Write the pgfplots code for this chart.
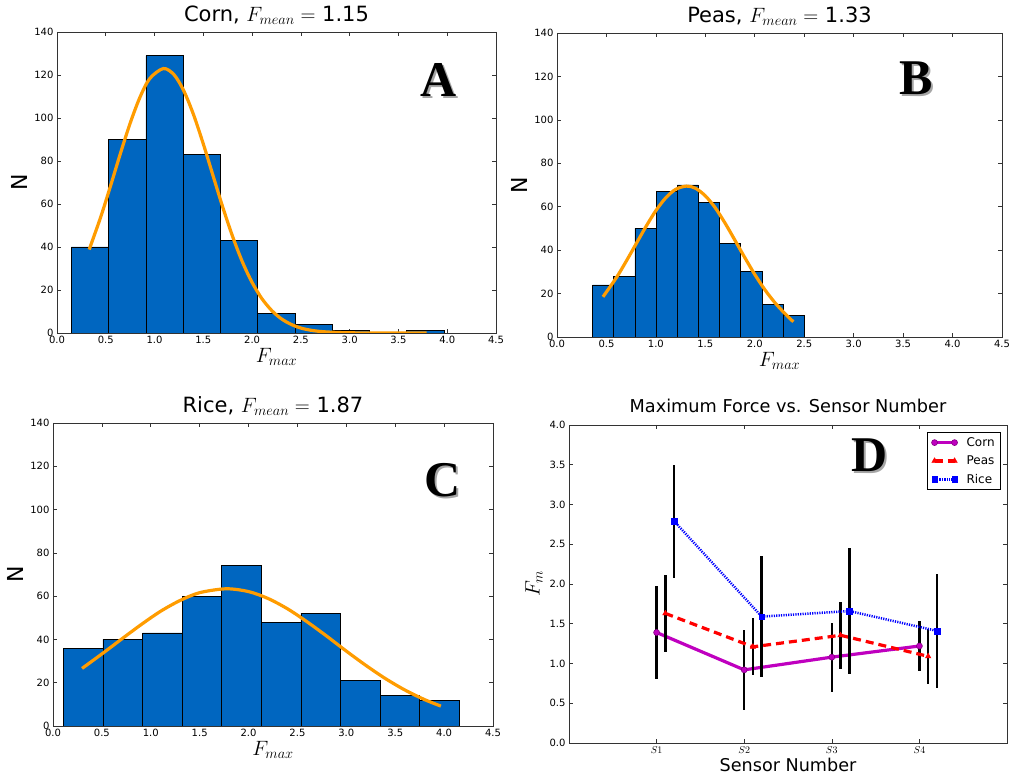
\documentclass[border=0pt]{standalone}
\usepackage{fontspec}
\setmainfont{DejaVu Sans}
\newfontfamily\letterfont{Liberation Serif}
\usepackage{pgfplots}
\pgfplotsset{compat=1.18}

\definecolor{histblue}{HTML}{0066C0}
\definecolor{fitorange}{HTML}{FF9C00}
\definecolor{corncol}{HTML}{BF00BF}
\definecolor{peascol}{HTML}{FF0000}
\definecolor{ricecol}{HTML}{0000FF}

% big panel letter with a soft drop shadow
\newcommand{\panelletter}[2]{%
  \node[text=black!35, font=\letterfont\bfseries\fontsize{50}{50}\selectfont, xshift=2pt, yshift=-2pt] at (#1) {#2};
  \node[text=black, font=\letterfont\bfseries\fontsize{50}{50}\selectfont] at (#1) {#2};
}

\pgfplotsset{
  panel/.style={
    scale only axis,
    anchor=south west,
    /pgf/number format/assume math mode=true,
    axis line style={black!80, line width=0.8pt},
    tick style={black!80, line width=0.6pt},
    major tick length=4pt,
    minor tick num=0,
    ticklabel style={font=\fontsize{10}{12}\selectfont},
    title style={font=\fontsize{21}{23}\selectfont, anchor=south, inner sep=0pt, yshift=1pt},
    xlabel style={font=\fontsize{21}{24}\selectfont, yshift=3pt},
    ylabel style={font=\fontsize{22}{25}\selectfont},
  },
  hist/.style={
    panel,
    xmin=0, xmax=4.5, ymin=0, ymax=140,
    xtick={0,0.5,1,1.5,2,2.5,3,3.5,4,4.5},
    ytick={0,20,40,60,80,100,120,140},
    xticklabel style={/pgf/number format/fixed, /pgf/number format/fixed zerofill, /pgf/number format/precision=1},
    xlabel={$F_{max}$},
    ylabel={N},
  },
  bars/.style={ybar interval, fill=histblue, draw=black, line width=0.7pt},
  fit/.style={fitorange, line width=3.2pt, smooth},
  errs/.style={error bars/y dir=both, error bars/y explicit, error bars/error mark=none,
    error bars/error bar style={black, line width=2.5pt, solid}},
}

\begin{document}
\begin{tikzpicture}
\path[use as bounding box] (0,0) rectangle (1011pt,781pt);

% Panel A: Corn
\begin{axis}[hist, at={(57pt,448pt)}, width=439pt, height=301pt,
  title={Corn, $F_{mean}=$ 1.15}]
  \addplot[bars] coordinates {
    (0.147,40) (0.529,90) (0.911,129) (1.293,83) (1.675,43) (2.057,9)
    (2.439,4) (2.821,1) (3.203,0) (3.585,1) (3.967,0)
  };
  \addplot[fit] coordinates {
    (0.33,38.8) (0.45,54.2) (0.55,68.6) (0.65,83.5) (0.75,97.6) (0.85,109.6)
    (0.95,118.3) (1.09,123) (1.2,120.1) (1.3,112.6) (1.4,101.5) (1.5,87.9)
    (1.6,73.1) (1.7,58.4) (1.8,44.9) (1.9,33.1) (2.0,23.5) (2.1,16.0)
    (2.2,10.5) (2.3,6.6) (2.4,4.0) (2.5,2.3) (2.6,1.3) (2.7,0.7) (2.8,0.4)
    (2.9,0.2) (3.0,0.1) (3.2,0) (3.5,0) (3.79,0)
  };
  \panelletter{axis cs:3.91,117.6}{A}
\end{axis}

% Panel B: Peas
\begin{axis}[hist, at={(557pt,444pt)}, width=445pt, height=304pt,
  title={Peas, $F_{mean}=$ 1.33}]
  \addplot[bars] coordinates {
    (0.36,24) (0.574,28) (0.788,50) (1.002,67) (1.216,70) (1.43,62)
    (1.644,43) (1.858,30) (2.072,15) (2.286,10) (2.50,0)
  };
  \addplot[fit] coordinates {
    (0.465,18.5) (0.6,27.3) (0.7,34.9) (0.8,42.9) (0.9,50.9) (1.0,58.2)
    (1.1,64.1) (1.2,68.0) (1.31,69.5) (1.4,68.5) (1.5,65.0) (1.6,59.5)
    (1.7,52.4) (1.8,44.5) (1.9,36.5) (2.0,28.8) (2.1,21.9) (2.2,16.0)
    (2.3,11.0) (2.39,7.0)
  };
  \panelletter{axis cs:3.63,119}{B}
\end{axis}

% Panel C: Rice
\begin{axis}[hist, at={(53pt,55pt)}, width=440pt, height=303pt,
  title={Rice, $F_{mean}=$ 1.87}]
  \addplot[bars] coordinates {
    (0.106,36) (0.511,40) (0.916,43) (1.321,60) (1.726,74) (2.131,48)
    (2.536,52) (2.941,21) (3.346,14) (3.751,12) (4.156,0)
  };
  \addplot[fit] coordinates {
    (0.297,26.6) (0.5,33.3) (0.7,40.1) (0.9,46.8) (1.1,53.0) (1.3,58.0)
    (1.5,61.6) (1.77,63.4) (2.0,62.1) (2.2,58.9) (2.4,54.1) (2.6,48.1)
    (2.8,41.5) (3.0,34.6) (3.2,28.0) (3.4,21.9) (3.6,16.6) (3.8,12.2)
    (3.967,9.2)
  };
  \panelletter{axis cs:3.98,113.8}{C}
\end{axis}

% Panel D: force per sensor
\begin{axis}[panel, at={(569pt,38pt)}, width=438pt, height=318pt,
  xmin=0, xmax=5, ymin=0, ymax=4,
  xtick={1,2,3,4},
  xticklabels={$S1$,$S2$,$S3$,$S4$},
  ytick={0,0.5,1,1.5,2,2.5,3,3.5,4},
  yticklabel style={/pgf/number format/fixed, /pgf/number format/fixed zerofill, /pgf/number format/precision=1},
  title={Maximum Force vs. Sensor Number},
  title style={font=\fontsize{17.7}{19}\selectfont, anchor=base, yshift=5pt},
  xlabel={Sensor Number},
  xlabel style={font=\fontsize{17.6}{20}\selectfont, yshift=-1pt},
  ylabel={$F_m$},
  ylabel style={font=\fontsize{20}{22}\selectfont},
  legend style={at={(1,1)}, anchor=north east, xshift=-6pt, yshift=-7pt,
    font=\fontsize{12}{14}\selectfont, draw=black, line width=0.8pt,
    inner xsep=4pt, inner ysep=3pt, row sep=4pt,
    /tikz/every odd column/.append style={column sep=7pt}},
  legend cell align=left,
  legend image code/.code={\draw[mark repeat=2, mark phase=1, #1] plot coordinates {(0pt,0pt) (10pt,0pt) (20pt,0pt)};},
]
  \addplot[corncol, line width=3.2pt, mark=*, mark size=3pt,
    mark options={solid, fill=corncol, draw=corncol!70!black, line width=0.6pt}, errs]
    table[x=x, y=y, y error=e] {
      x   y     e
      1   1.39  0.58
      2   0.92  0.50
      3   1.08  0.435
      4   1.22  0.32
    };
  \addlegendentry{Corn}
  \addplot[peascol, line width=3.2pt, dash pattern=on 8pt off 5pt, mark=triangle*, mark size=3.2pt,
    mark options={solid, fill=peascol, line width=0.4pt}, errs]
    table[x=x, y=y, y error=e] {
      x    y      e
      1.1  1.63   0.48
      2.1  1.21   0.36
      3.1  1.355  0.42
      4.1  1.09   0.345
    };
  \addlegendentry{Peas}
  \addplot[ricecol, line width=2.5pt, dash pattern=on 1.2pt off 1.2pt, mark=square*, mark size=2.8pt,
    mark options={solid, fill=ricecol, line width=0.4pt}, errs]
    table[x=x, y=y, y error=e] {
      x    y     e
      1.2  2.79  0.71
      2.2  1.59  0.76
      3.2  1.66  0.79
      4.2  1.41  0.72
    };
  \addlegendentry{Rice}
  \panelletter{axis cs:3.43,3.62}{D}
\end{axis}
\end{tikzpicture}
\end{document}
